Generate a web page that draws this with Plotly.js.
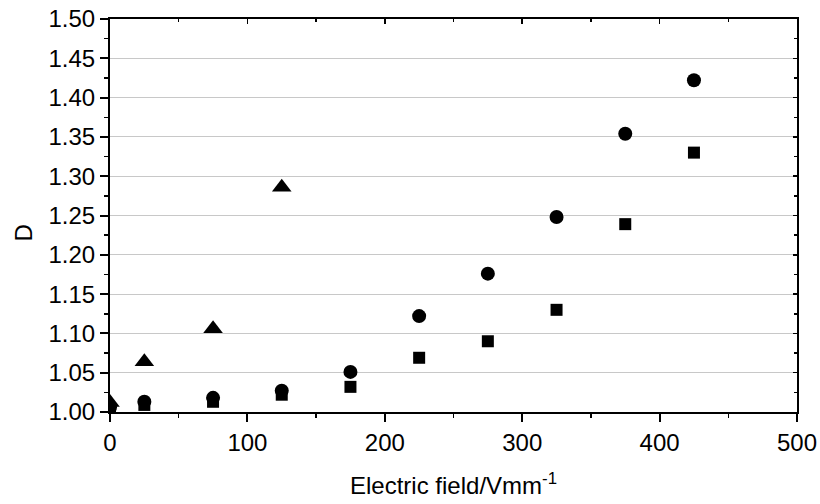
<!DOCTYPE html>
<html><head><meta charset="utf-8">
<script src="https://cdn.plot.ly/plotly-3.0.1.min.js"></script>
<style>html,body{margin:0;padding:0;background:#fff}#c{width:820px;height:504px}</style>
</head><body><div id="c"></div>
<script>
const fieldSquares = [0, 25, 75, 125, 175, 225, 275, 325, 375, 425];
const dSquares = [1.004, 1.009, 1.013, 1.022, 1.032, 1.069, 1.090, 1.130, 1.239, 1.330];
const fieldCircles = [0, 25, 75, 125, 175, 225, 275, 325, 375, 425];
const dCircles = [1.006, 1.013, 1.018, 1.027, 1.051, 1.122, 1.176, 1.248, 1.354, 1.422];
const fieldTriangles = [0, 25, 75, 125];
const dTriangles = [1.012, 1.064, 1.106, 1.286];
const xTitle = 'Electric field/Vmm<sup>-1</sup>';
const yTitle = 'D';

const font = {family: 'Liberation Sans, Arial, sans-serif', size: 24, color: '#000'};
const traces = [
  {x: fieldTriangles, y: dTriangles, mode: 'markers', type: 'scatter',
   marker: {symbol: 'triangle-up', size: 17, color: '#000'}, cliponaxis: true},
  {x: fieldSquares, y: dSquares, mode: 'markers', type: 'scatter',
   marker: {symbol: 'square', size: 12, color: '#000'}, cliponaxis: true},
  {x: fieldCircles, y: dCircles, mode: 'markers', type: 'scatter',
   marker: {symbol: 'circle', size: 14, color: '#000'}, cliponaxis: true},
  {x: [], y: [], xaxis: 'x2', yaxis: 'y2', type: 'scatter', mode: 'markers', showlegend: false}
];
const layout = {
  width: 820, height: 504,
  margin: {l: 110, r: 23, t: 19, b: 92},
  paper_bgcolor: '#fff', plot_bgcolor: '#fff',
  showlegend: false,
  font: font,
  xaxis: {
    range: [0, 500], dtick: 100, tick0: 0,
    showline: true, linecolor: '#000', linewidth: 2,
    ticks: 'outside', ticklen: 8, tickwidth: 2, tickcolor: '#000',
    minor: {dtick: 50, ticks: 'outside', ticklen: 4, tickwidth: 1.5, tickcolor: '#000'},
    showgrid: false, zeroline: false,
    tickfont: font,
    title: {text: xTitle, font: font, standoff: 22}
  },
  yaxis: {
    range: [1.0, 1.5], dtick: 0.05, tick0: 1.0, tickformat: '.2f',
    showline: true, linecolor: '#000', linewidth: 2,
    ticks: 'outside', ticklen: 8, tickwidth: 2, tickcolor: '#000',
    minor: {dtick: 0.025, ticks: 'outside', ticklen: 4, tickwidth: 1.5, tickcolor: '#000', showgrid: false},
    showgrid: true, gridcolor: '#c8c8c8', gridwidth: 1, zeroline: false,
    tickfont: font
  },
  xaxis2: {
    overlaying: 'x', side: 'top', range: [0, 500], dtick: 100, tick0: 0,
    showline: true, linecolor: '#000', linewidth: 2,
    ticks: 'inside', ticklen: 5, tickwidth: 1.5, tickcolor: '#000',
    minor: {dtick: 50, ticks: 'inside', ticklen: 3, tickwidth: 1.5, tickcolor: '#000'},
    showticklabels: false, showgrid: false, zeroline: false
  },
  yaxis2: {
    overlaying: 'y', side: 'right', range: [1.0, 1.5], dtick: 0.05, tick0: 1.0,
    showline: true, linecolor: '#000', linewidth: 2,
    ticks: 'inside', ticklen: 4, tickwidth: 1.5, tickcolor: '#000',
    minor: {dtick: 0.025, ticks: 'inside', ticklen: 3, tickwidth: 1.5, tickcolor: '#000'},
    showticklabels: false, showgrid: false, zeroline: false
  },
  annotations: [
    {text: yTitle, xref: 'paper', yref: 'paper', x: -0.126, y: 0.455,
     xanchor: 'center', yanchor: 'middle', textangle: -90, showarrow: false, font: font}
  ]
};
Plotly.newPlot('c', traces, layout, {displayModeBar: false, staticPlot: true});
</script></body></html>
